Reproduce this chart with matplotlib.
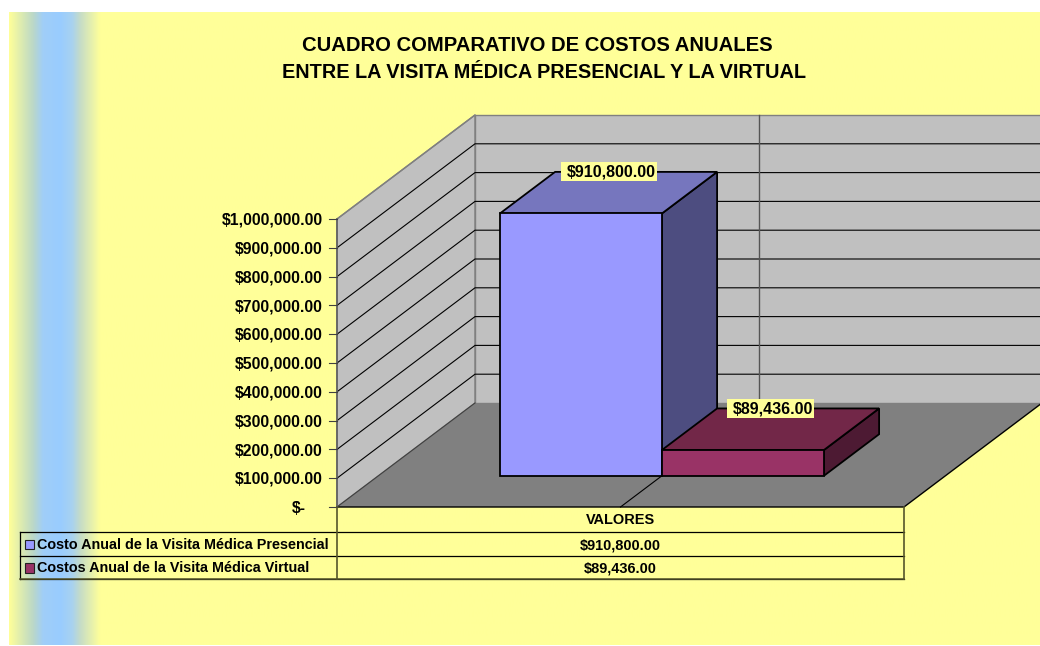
import numpy as np
import matplotlib
matplotlib.use("Agg")
import matplotlib.pyplot as plt
from matplotlib.colors import LinearSegmentedColormap
from matplotlib.patches import Polygon, Rectangle

plt.rcParams['font.family'] = ['Liberation Sans', 'DejaVu Sans']

title_lines = ["CUADRO COMPARATIVO DE COSTOS ANUALES", "ENTRE LA VISITA MÉDICA PRESENCIAL Y LA VIRTUAL"]
series_names = ["Costo Anual de la Visita Médica Presencial", "Costos Anual de la Visita Médica Virtual"]
series_values = [910800.0, 89436.0]
value_labels = ["$910,800.00", "$89,436.00"]
category = "VALORES"
tick_values = [100000 * i for i in range(11)]
tick_labels = ["$-", "$100,000.00", "$200,000.00", "$300,000.00", "$400,000.00", "$500,000.00",
               "$600,000.00", "$700,000.00", "$800,000.00", "$900,000.00", "$1,000,000.00"]
front_colors = ["#9999FF", "#993366"]
top_colors = ["#7676BE", "#722748"]
side_colors = ["#4D4D80", "#4D1A33"]

X0, XW, Y0, YH, DX, DY = 337.0, 567.0, 507.0, 288.0, 138.0, 104.0
VMAX = 1000000.0


def P(f, v, d):
    return (X0 + XW * f + DX * d, Y0 - YH * v / VMAX - DY * d)


fig = plt.figure(figsize=(10.4, 6.46), dpi=100, facecolor="white")
ax = fig.add_axes([0, 0, 1, 1])
ax.set_xlim(0, 1040)
ax.set_ylim(646, 0)
ax.axis("off")

# chart-area background with vertical gradient band
stops = [(9, "#FFFF99"), (33, "#BBD8C8"), (43, "#A0CEF8"), (60, "#99CCFF"), (72, "#A8D2F0"),
         (80, "#C5DCC8"), (100, "#FFFF99"), (1040, "#FFFF99")]
span = stops[-1][0] - stops[0][0]
cmap = LinearSegmentedColormap.from_list("bg", [((x - 9) / span, c) for x, c in stops], N=2048)
ax.imshow(np.linspace(0, 1, 2048)[None, :], extent=(9, 1040, 645, 12), cmap=cmap, aspect="auto",
          interpolation="bilinear", zorder=0)
ax.set_xlim(0, 1040)
ax.set_ylim(646, 0)

ax.text(537.5, 45.5, title_lines[0], ha="center", va="center", fontsize=14.6, fontweight="bold",
        color="black", zorder=10)
ax.text(544, 72, title_lines[1], ha="center", va="center", fontsize=14.3, fontweight="bold",
        color="black", zorder=10)

clip = Rectangle((0, 0), 1040, 646, transform=ax.transData)


def poly(pts, fc, ec="black", lw=1.3, z=2):
    p = Polygon(pts, closed=True, facecolor=fc, edgecolor=ec, linewidth=lw, joinstyle="miter", zorder=z)
    ax.add_patch(p)
    p.set_clip_path(clip)


# walls and floor
poly([P(0, 0, 0), P(0, VMAX, 0), P(0, VMAX, 1), P(0, 0, 1)], "#C0C0C0", "#808080", 1.0)
poly([P(0, 0, 1), P(0, VMAX, 1), P(1, VMAX, 1), P(1, 0, 1)], "#C0C0C0", "#808080", 1.0)
poly([P(0, 0, 0), P(1, 0, 0), P(1, 0, 1), P(0, 0, 1)], "#808080", "none", 0)

# gridlines
for v in tick_values[1:-1]:
    xs, ys = zip(P(0, v, 0), P(0, v, 1), P(1, v, 1))
    ax.plot(xs, ys, color="black", lw=0.8, zorder=3, solid_capstyle="butt")
xs, ys = zip(P(0, VMAX, 0), P(0, VMAX, 1))
ax.plot(xs, ys, color="#808080", lw=1.0, zorder=3)
xs, ys = zip(P(0.5, 0, 1), P(0.5, VMAX, 1))
ax.plot(xs, ys, color="#555555", lw=1.0, zorder=3)
xs, ys = zip(P(0.5, 0, 0), P(0.5, 0, 1))
ax.plot(xs, ys, color="black", lw=0.8, zorder=3)
xs, ys = zip(P(0, 0, 0), P(1, 0, 0), P(1, 0, 1))
ax.plot(xs, ys, color="black", lw=1.0, zorder=3)
xs, ys = zip(P(0, 0, 0), P(0, 0, 1))
ax.plot(xs, ys, color="#404040", lw=0.8, zorder=3)

# axis line, ticks, tick labels
xs, ys = zip(P(0, 0, 0), P(0, VMAX, 0))
ax.plot(xs, ys, color="#606060", lw=1.2, zorder=4)
for v, lab in zip(tick_values, tick_labels):
    x, y = P(0, v, 0)
    ax.plot([x - 8, x], [y, y], color="#404040", lw=0.8, zorder=4)
    ax.text(x - (31 if v == 0 else 14.5), y + 1.2, lab, ha="right", va="center", fontsize=11.45,
            fontweight="bold", zorder=10)

# 3D bars
bar_w = 2.0 / 7.0
d1, d2 = 0.3, 0.7
for i, val in enumerate(series_values):
    f0 = 0.5 - bar_w + i * bar_w
    f1 = f0 + bar_w
    poly([P(f1, 0, d1), P(f1, val, d1), P(f1, val, d2), P(f1, 0, d2)], side_colors[i], z=5 + i)
    poly([P(f0, val, d1), P(f1, val, d1), P(f1, val, d2), P(f0, val, d2)], top_colors[i], z=5 + i)
    poly([P(f0, 0, d1), P(f1, 0, d1), P(f1, val, d1), P(f0, val, d1)], front_colors[i], z=5 + i)

renderer = fig.canvas.get_renderer()
for i, (val, lab) in enumerate(zip(series_values, value_labels)):
    fc = 0.5 - bar_w / 2 + i * bar_w
    x = P(fc, val, 0.5)[0]
    y = P(fc, val, d2)[1]
    t = ax.text(x + 2.5, y + 0.5, lab, ha="center", va="center", fontsize=11.5, fontweight="bold", zorder=12)
    bb = t.get_window_extent(renderer)
    ax.add_patch(Rectangle((bb.x0 - 6, y - 9.5), bb.width + 7, 19, facecolor="#FFFF99", edgecolor="none", zorder=11))

# data table
tx0, tx1, tx2 = 20.0, X0, X0 + XW
rows = [507.0, 532.0, 556.0, 579.0]
edge = "#55552A"
for y in rows[1:]:
    ax.plot([tx0, tx2], [y, y], color="black", lw=0.9, zorder=8)
ax.plot([tx0, tx0], [rows[1], rows[3]], color="black", lw=0.9, zorder=8)
ax.plot([tx0, tx2], [rows[3], rows[3]], color=edge, lw=1.1, zorder=8)
ax.plot([tx1, tx1], [rows[0], rows[3]], color=edge, lw=1.2, zorder=8)
ax.plot([tx2, tx2], [rows[0], rows[3]], color=edge, lw=1.2, zorder=8)
ax.text((tx1 + tx2) / 2, (rows[0] + rows[1]) / 2 + 1, category, ha="center", va="center", fontsize=10.45,
        fontweight="bold", zorder=10)
for i, (name, lab) in enumerate(zip(series_names, value_labels)):
    yc = (rows[i + 1] + rows[i + 2]) / 2
    ax.add_patch(Rectangle((24.5, yc - 4.5), 9.5, 9.5, facecolor=front_colors[i], edgecolor="#222222", lw=0.8, zorder=9))
    ax.text(37, yc + 1, name, ha="left", va="center", fontsize=10.4, fontweight="bold", zorder=10)
    ax.text((tx1 + tx2) / 2, yc + 1, lab, ha="center", va="center", fontsize=10.45, fontweight="bold", zorder=10)

fig.savefig("out.png", dpi=100, facecolor="white")
